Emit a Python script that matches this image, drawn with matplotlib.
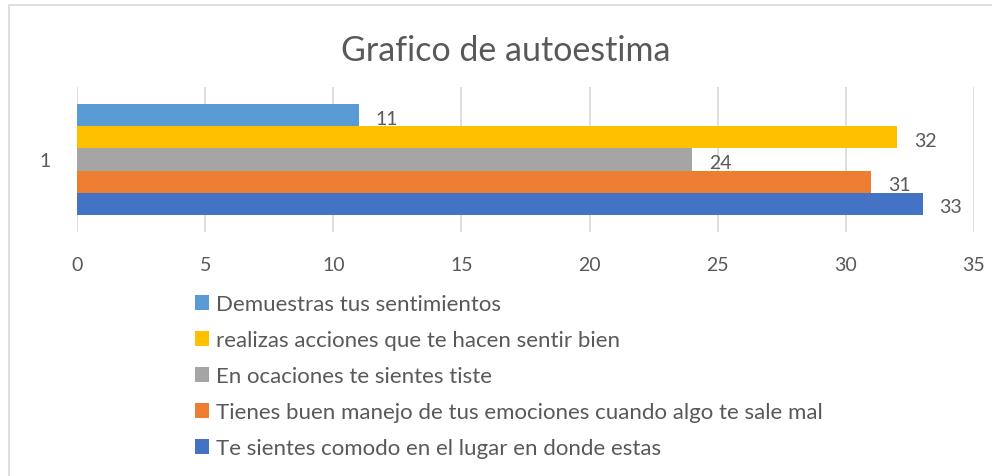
import matplotlib
matplotlib.use("Agg")
import matplotlib.pyplot as plt
from matplotlib.patches import Rectangle, Patch

plt.rcParams['font.family'] = ['Lato', 'DejaVu Sans']

categories = ["1"]
series_names = [
    "Demuestras tus sentimientos",
    "realizas acciones que te hacen sentir bien",
    "En ocaciones te sientes tiste",
    "Tienes buen manejo de tus emociones cuando algo te sale mal",
    "Te sientes comodo en el lugar en donde estas",
]
series_values = [11, 32, 24, 31, 33]
colors = ["#5B9BD5", "#FFC000", "#A5A5A5", "#ED7D31", "#4472C4"]
xticks = [0, 5, 10, 15, 20, 25, 30, 35]
title = "Grafico de autoestima"

W, H = 992, 477
fig = plt.figure(figsize=(W / 100, H / 100), dpi=100)
text_color = "#595959"
grid_color = "#D9D9D9"

# outer border
fig.patches.append(Rectangle((9 / W, -0.1), 1.2, 1 - 6 / H + 0.1, transform=fig.transFigure,
                             fill=False, edgecolor=grid_color, linewidth=1.2))

ax = fig.add_axes([77 / W, 1 - 233 / H, (974 - 77) / W, (233 - 88) / H])
n = len(series_values)
bar_h = 0.152
total = bar_h * n
for i, (name, v, c) in enumerate(zip(series_names, series_values, colors)):
    y = 1 + total / 2 - bar_h * (i + 0.5)
    ax.barh(y, v, height=bar_h, color=c, label=name, zorder=2)
    ax.annotate(str(v), (v, y), xytext=(12, -2), textcoords="offset points",
                va="center", ha="left", fontsize=14, color=text_color)

ax.set_xlim(0, 35)
ax.set_ylim(0.5, 1.5)
ax.set_xticks(xticks)
ax.set_yticks([1])
ax.set_yticklabels(categories)
for s in ax.spines.values():
    s.set_visible(False)
ax.grid(axis="x", color=grid_color, linewidth=1.2, zorder=0)
ax.tick_params(axis="x", length=0, pad=17, labelsize=14, labelcolor=text_color)
ax.tick_params(axis="y", length=0, pad=19, labelsize=14, labelcolor=text_color)

fig.text(506 / W, 1 - 51 / H, title, ha="center", va="center", fontsize=24.5, color=text_color)

handles = [Patch(facecolor=c, edgecolor="none") for c in colors]
leg = fig.legend(handles, series_names, loc="upper left", bbox_to_anchor=(195 / W, 1 - 295 / H),
                 frameon=False, fontsize=16, labelcolor=text_color, handlelength=0.65,
                 handleheight=0.65, handletextpad=0.3, labelspacing=0.72, borderaxespad=0,
                 borderpad=0)

fig.savefig("out.png", dpi=100)
